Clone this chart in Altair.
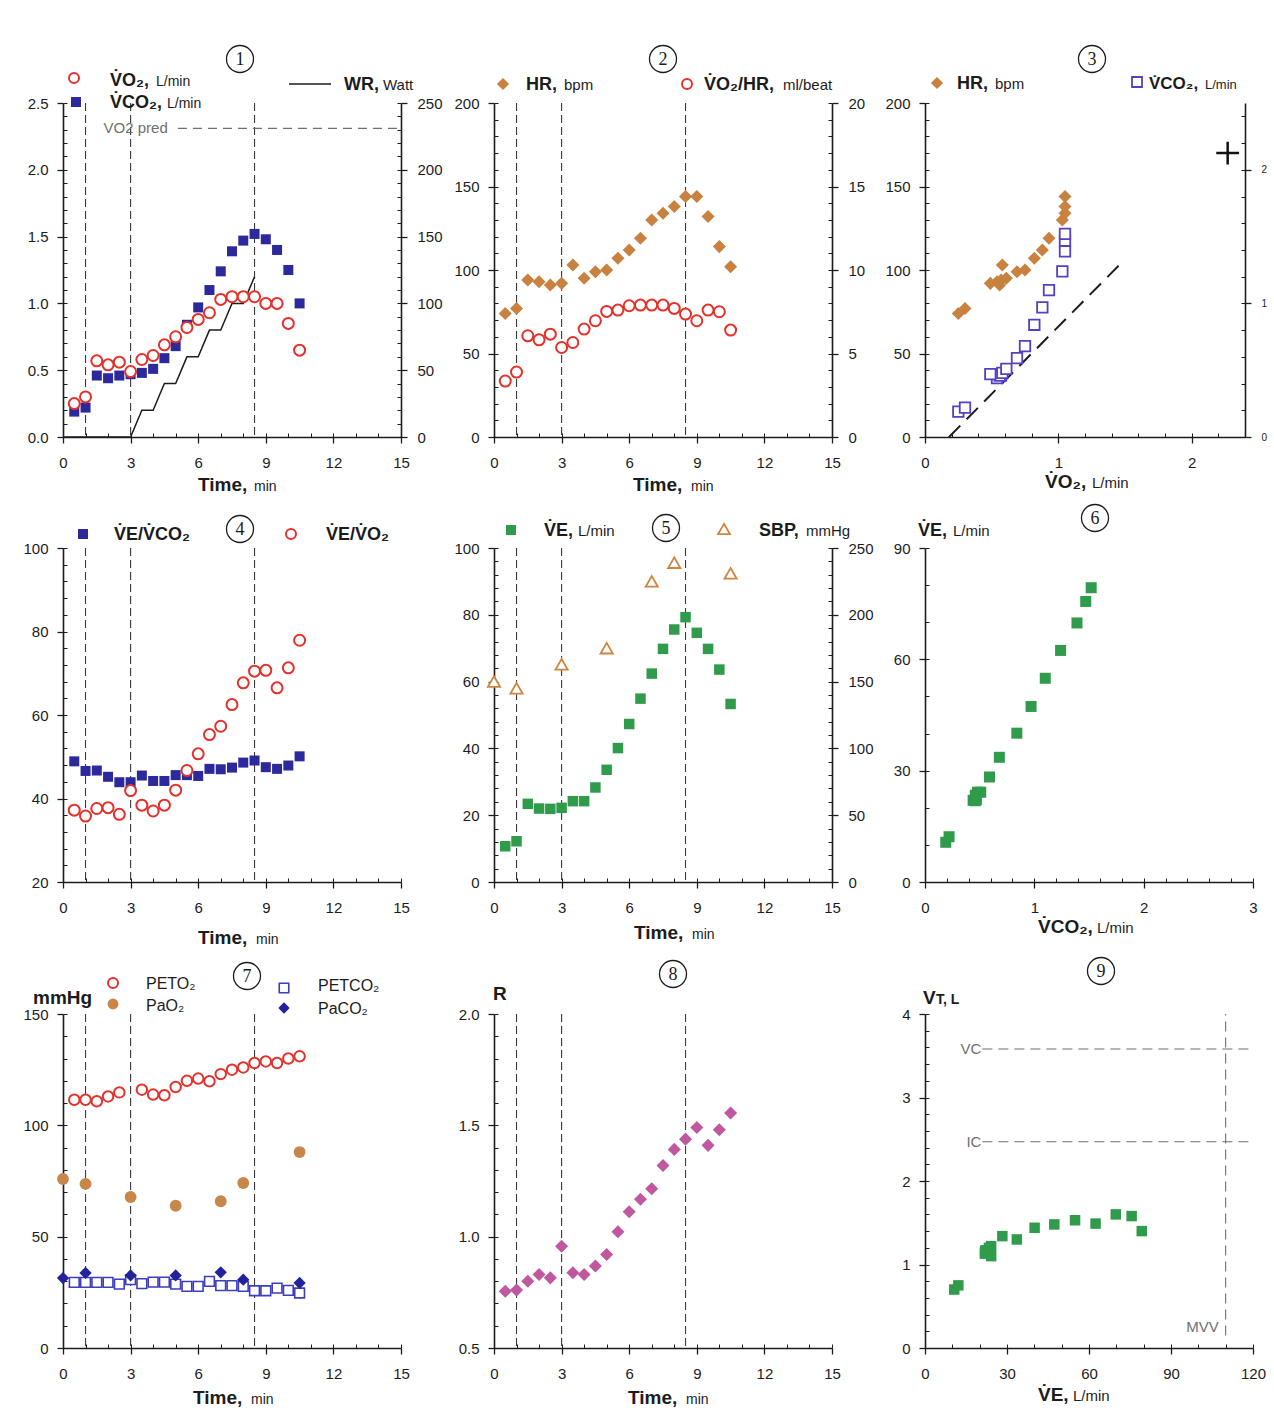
import altair as alt
import pandas as pd

# ---------------- data ----------------
time = [0.5, 1.0, 1.5, 2.0, 2.5, 3.0, 3.5, 4.0, 4.5, 5.0, 5.5, 6.0, 6.5, 7.0, 7.5, 8.0, 8.5, 9.0, 9.5, 10.0, 10.5]
vo2 = [0.25, 0.30, 0.57, 0.54, 0.56, 0.49, 0.58, 0.61, 0.69, 0.75, 0.82, 0.88, 0.93, 1.03, 1.05, 1.05, 1.05, 1.00, 1.00, 0.85, 0.65]
vco2 = [0.19, 0.22, 0.46, 0.44, 0.46, 0.47, 0.48, 0.51, 0.59, 0.68, 0.84, 0.97, 1.10, 1.24, 1.39, 1.47, 1.52, 1.48, 1.40, 1.25, 1.00]
wr_time = [0, 3, 3.5, 4, 4.5, 5, 5.5, 6, 6.5, 7, 7.5, 8, 8.5]
wr = [0, 0, 20, 20, 40, 40, 60, 60, 80, 80, 100, 100, 120]
hr = [74, 77, 94, 93, 91, 92, 103, 95, 99, 100, 107, 112, 119, 130, 134, 138, 144, 144, 132, 114, 102]
vo2_hr = [3.35, 3.89, 6.06, 5.82, 6.16, 5.36, 5.66, 6.46, 6.96, 7.52, 7.6, 7.86, 7.9, 7.9, 7.9, 7.7, 7.36, 6.96, 7.6, 7.5, 6.4]
ve_vco2 = [48.9, 46.6, 46.7, 45.2, 43.9, 43.9, 45.5, 44.2, 44.2, 45.6, 45.6, 45.4, 47.1, 47.0, 47.4, 48.6, 49.1, 47.5, 47.1, 47.9, 50.1]
ve_vo2 = [37.2, 35.8, 37.6, 37.8, 36.2, 41.9, 38.4, 37.0, 38.4, 42.0, 46.7, 50.7, 55.3, 57.3, 62.5, 67.7, 70.5, 70.7, 66.5, 71.3, 77.9]
ve = [10.7, 12.2, 23.4, 22.0, 21.9, 22.2, 24.2, 24.2, 28.3, 33.6, 40.1, 47.3, 54.9, 62.4, 69.8, 75.6, 79.3, 74.6, 69.8, 63.6, 53.3]
sbp_time = [0, 1, 3, 5, 7, 8, 10.5]
sbp = [150, 145, 163, 175, 225, 239, 231]
peto2_time = [0.5, 1.0, 1.5, 2.0, 2.5, 3.5, 4.0, 4.5, 5.0, 5.5, 6.0, 6.5, 7.0, 7.5, 8.0, 8.5, 9.0, 9.5, 10.0, 10.5]
peto2 = [111.5, 111.5, 110.8, 113.0, 114.8, 116.0, 113.8, 113.5, 117.2, 120.0, 121.0, 119.8, 123.0, 125.0, 126.0, 128.0, 128.7, 128.0, 130.0, 131.0]
pao2_time = [0, 1, 3, 5, 7, 8, 10.5]
pao2 = [75.9, 73.7, 67.8, 63.9, 65.9, 74.1, 88.0]
petco2 = [29.5, 29.5, 29.5, 29.5, 28.7, 30.7, 28.9, 29.6, 29.6, 28.7, 27.7, 27.7, 29.9, 28.0, 28.0, 27.7, 25.7, 25.7, 26.9, 25.9, 24.7]
paco2_time = [0, 1, 3, 5, 7, 8, 10.5]
paco2 = [31.4, 33.7, 32.6, 32.6, 34.0, 30.7, 29.2]
r_ratio = [0.755, 0.76, 0.80, 0.83, 0.815, 0.957, 0.838, 0.83, 0.868, 0.92, 1.022, 1.112, 1.168, 1.215, 1.32, 1.392, 1.438, 1.49, 1.41, 1.48, 1.555]
vt = [0.70, 0.75, 1.20, 1.16, 1.13, 1.17, 1.22, 1.10, 1.34, 1.30, 1.44, 1.48, 1.53, 1.49, 1.60, 1.58, 1.40]
phase_marks = [1.0, 3.0, 8.5]
vo2_pred = 2.31
pred_line = [5.1, 15]
peak_pred_vo2, peak_pred_hr = 2.27, 170
slope_x = [0.18, 1.46]
slope_y = [0.0, 1.29]
vc, ic, mvv = 3.58, 2.47, 110
ref_line_start = 21

time_ticks = [0, 3, 6, 9, 12, 15]

# ---------------- style ----------------
FONT = "Liberation Sans"
SERIF = "Liberation Serif"
INK = "#1c1c1c"
RED = "#e4312b"
BLUE = "#2b299c"
BROWN = "#c8813f"
GREEN = "#2f9b4b"
VIOLET = "#5540c4"
PINK = "#c0589f"
NAVY = "#22229a"
PBLUE = "#3d3dbf"
GRAY = "#6f6f6f"
LBL = 15

W, W3, W3A, H, H3, OFF3 = 338, 328, 320, 334, 355, 21
R3 = [H3, OFF3]

ONE = pd.DataFrame({"k": [0]})

df = pd.DataFrame({"t": time, "vo2": vo2, "vco2": vco2, "hr": hr, "o2p": vo2_hr,
                   "eqco2": ve_vco2, "eqo2": ve_vo2, "ve": ve, "petco2": petco2, "r": r_ratio})
dfx = df.iloc[:len(vt)].copy()
dfx["vt"] = vt
df_wr = pd.DataFrame({"t": wr_time, "wr": wr})
df_sbp = pd.DataFrame({"t": sbp_time, "sbp": sbp})
df_peto2 = pd.DataFrame({"t": peto2_time, "v": peto2})
df_pao2 = pd.DataFrame({"t": pao2_time, "v": pao2})
df_paco2 = pd.DataFrame({"t": paco2_time, "v": paco2})
df_marks = pd.DataFrame({"m": phase_marks})


def sc(domain, rng=None):
    kw = dict(domain=domain, nice=False, zero=False)
    if rng is not None:
        kw["range"] = rng
    return alt.Scale(**kw)


def ax_major(orient, values, fmt=None, size=LBL, pad=None):
    kw = dict(orient=orient, values=values, title=None, grid=False, labelFont=FONT,
              labelFontSize=size, labelColor=INK, domainColor=INK, domainWidth=1.6,
              tickColor=INK, tickWidth=1.3, tickSize=6, labelFlush=False, labelOverlap=False)
    if fmt:
        kw["format"] = fmt
    if pad is not None:
        kw["labelPadding"] = pad
    return alt.Axis(**kw)


def ax_minor(orient, values, offset):
    # an axis on the opposite side, shifted onto the domain line, so its ticks point inward
    return alt.Axis(orient=orient, values=values, title=None, grid=False, labels=False,
                    domain=False, tickColor=INK, tickWidth=1.0, tickSize=4, offset=offset)


def ax_layer(xdom, ydom, xaxis, yaxis, yr=None):
    d = pd.DataFrame({"x": [xdom[0]], "y": [ydom[0]]})
    return alt.Chart(d).mark_point(opacity=0, size=1).encode(
        x=alt.X("x:Q", scale=sc(xdom), axis=xaxis),
        y=alt.Y("y:Q", scale=sc(ydom, yr), axis=yaxis))


def steps(lo, hi, step):
    n = int(round((hi - lo) / step))
    return [round(lo + i * step, 4) for i in range(n + 1)]


def tx(s, x, y, size=16, weight="normal", color=INK, align="left", baseline="alphabetic", font=FONT):
    return alt.Chart(ONE).mark_text(text=s, font=font, fontSize=size, fontWeight=weight, color=color,
                                    align=align, baseline=baseline).encode(x=alt.value(x), y=alt.value(y))


def sym(x, y, shape, color, size, hollow=False, sw=2.0):
    if hollow:
        m = alt.Chart(ONE).mark_point(shape=shape, filled=True, fill="white", stroke=color,
                                      strokeWidth=sw, size=size, opacity=1)
    else:
        m = alt.Chart(ONE).mark_point(shape=shape, filled=True, color=color, size=size, opacity=1)
    return m.encode(x=alt.value(x), y=alt.value(y))


def badge(n, x, y):
    return [alt.Chart(ONE).mark_point(shape="circle", filled=False, color=INK, size=27 * 27,
                                      strokeWidth=1.3, opacity=1).encode(x=alt.value(x), y=alt.value(y)),
            tx(str(n), x, y + 6, size=18, font=SERIF, align="center")]


def pts(data, xf, yf, xdom, ydom, shape, color, size, hollow=False, sw=2.0, yr=None):
    if hollow:
        m = alt.Chart(data).mark_point(shape=shape, filled=True, fill="white", stroke=color,
                                       strokeWidth=sw, size=size, opacity=1)
    else:
        m = alt.Chart(data).mark_point(shape=shape, filled=True, color=color, size=size, opacity=1)
    return m.encode(x=alt.X(f"{xf}:Q", scale=sc(xdom), axis=None),
                    y=alt.Y(f"{yf}:Q", scale=sc(ydom, yr), axis=None))


def vlines(xdom, top, bottom):
    return alt.Chart(df_marks).mark_rule(color="#3a3a3a", strokeWidth=1.1, strokeDash=[8, 4]).encode(
        x=alt.X("m:Q", scale=sc(xdom), axis=None), y=alt.value(top), y2=alt.value(bottom))


def std_axes(xdom, ydom, xmaj, xmin, ymaj, ymin, w, h, xfmt=None, yfmt=None, yr=None):
    return [ax_layer(xdom, ydom, ax_major("bottom", xmaj, xfmt, pad=12), ax_major("left", ymaj, yfmt, pad=9), yr),
            ax_layer(xdom, ydom, ax_minor("top", xmin, -h), ax_minor("right", ymin, -w), yr)]


def time_axes(ydom, ymaj, ymin, w, h, fmt=None, yr=None):
    return std_axes([0, 15], ydom, time_ticks, steps(0, 15, 1), ymaj, ymin, w, h, None, fmt, yr)


def right_axes(xdom, ydom, ymaj, ymin, w, size=LBL, yr=None):
    return [ax_layer(xdom, ydom, None, ax_major("right", ymaj, size=size, pad=10), yr),
            ax_layer(xdom, ydom, None, ax_minor("left", ymin, -w), yr)]


def title_pair(a, b, xa, xb, y, sa=19, sb=14):
    return [tx(a, xa, y, size=sa, weight="bold"), tx(b, xb, y, size=sb)]


def panel(layers, w, h):
    return alt.layer(*layers).resolve_scale(y="independent").resolve_axis(
        x="independent", y="independent").properties(width=w, height=h)


TD = [0, 15]
VO2 = "V\u0307O\u2082"
VCO2 = "V\u0307CO\u2082"
VE = "V\u0307E"

# ---------------- panel 1 ----------------
p1_layers = (
    [alt.Chart(ONE).mark_point(shape="square", size=4, filled=True, color="white", opacity=1)
     .encode(x=alt.value(-57), y=alt.value(-97))]
    + time_axes([0, 2.5], steps(0, 2.5, 0.5), steps(0, 2.5, 0.1), W, H, fmt=".1f")
    + right_axes(TD, [0, 250], steps(0, 250, 50), steps(0, 250, 10), W)
    + [vlines(TD, 0, H),
       alt.Chart(pd.DataFrame({"x1": [pred_line[0]], "x2": [pred_line[1]], "y": [vo2_pred]}))
       .mark_rule(color=GRAY, strokeWidth=1.1, strokeDash=[9, 6])
       .encode(x=alt.X("x1:Q", scale=sc(TD), axis=None), x2="x2:Q",
               y=alt.Y("y:Q", scale=sc([0, 2.5]), axis=None)),
       alt.Chart(pd.DataFrame({"x": [1.8], "y": [vo2_pred]}))
       .mark_text(text="VO2 pred", font=FONT, fontSize=15, color=GRAY, align="left", baseline="middle")
       .encode(x=alt.X("x:Q", scale=sc(TD), axis=None), y=alt.Y("y:Q", scale=sc([0, 2.5]), axis=None)),
       alt.Chart(df_wr).mark_line(color=INK, strokeWidth=1.5)
       .encode(x=alt.X("t:Q", scale=sc(TD), axis=None), y=alt.Y("wr:Q", scale=sc([0, 250]), axis=None)),
       pts(df, "t", "vco2", TD, [0, 2.5], "square", BLUE, 100),
       pts(df, "t", "vo2", TD, [0, 2.5], "circle", RED, 121, hollow=True),
       sym(11, -25, "circle", RED, 100, hollow=True),
       sym(13, -1, "square", BLUE, 100),
       alt.Chart(ONE).mark_rule(color=INK, strokeWidth=1.6)
       .encode(x=alt.value(226), x2=alt.value(268), y=alt.value(-19))]
    + title_pair(VO2 + ",", "L/min", 47, 93, -17, 18, 14)
    + title_pair(VCO2 + ",", "L/min", 47, 104, 5, 18, 14)
    + title_pair("WR,", "Watt", 281, 320, -13, 18, 15)
    + badge(1, 177, -44)
    + title_pair("Time,", "min", 135, 191, 388)
)
p1 = panel(p1_layers, W, H)

# ---------------- panel 2 ----------------
p2_layers = (
    time_axes([0, 200], steps(0, 200, 50), steps(0, 200, 10), W, H)
    + right_axes(TD, [0, 20], steps(0, 20, 5), steps(0, 20, 1), W)
    + [vlines(TD, 0, H),
       pts(df, "t", "hr", TD, [0, 200], "diamond", BROWN, 170),
       pts(df, "t", "o2p", TD, [0, 20], "circle", RED, 121, hollow=True),
       sym(9, -19, "diamond", BROWN, 150),
       sym(193, -19, "circle", RED, 100, hollow=True)]
    + title_pair("HR,", "bpm", 32, 70, -13, 18, 15)
    + title_pair(VO2 + "/HR,", "ml/beat", 210, 289, -13, 18, 15)
    + badge(2, 169, -44)
    + title_pair("Time,", "min", 139, 197, 388)
)
p2 = panel(p2_layers, W, H)

# ---------------- panel 3 ----------------
XD3 = [0, 2.4]
p3_layers = (
    std_axes(XD3, [0, 200], [0, 1, 2], steps(0, 2.4, 0.2), steps(0, 200, 50), steps(0, 200, 10), W3A, H, xfmt="d")
    + right_axes(XD3, [0, 2.5], [0, 1, 2], steps(0, 2.4, 0.2), W3A, size=10)
    + [alt.Chart(pd.DataFrame({"x": slope_x, "y": slope_y})).mark_line(color=INK, strokeWidth=2, strokeDash=[16, 9])
       .encode(x=alt.X("x:Q", scale=sc(XD3), axis=None), y=alt.Y("y:Q", scale=sc([0, 2.5]), axis=None)),
       pts(dfx, "vo2", "hr", XD3, [0, 200], "diamond", BROWN, 170),
       pts(dfx, "vo2", "vco2", XD3, [0, 2.5], "square", VIOLET, 110, hollow=True, sw=1.8),
       alt.Chart(pd.DataFrame({"x": [peak_pred_vo2], "y": [peak_pred_hr]}))
       .mark_point(shape="M-1,0L1,0M0,-1L0,1", size=520, strokeWidth=2.5, color="#111", filled=False, opacity=1)
       .encode(x=alt.X("x:Q", scale=sc(XD3), axis=None), y=alt.Y("y:Q", scale=sc([0, 200]), axis=None)),
       sym(12, -20, "diamond", BROWN, 150),
       sym(212, -21, "square", VIOLET, 100, hollow=True, sw=1.8)]
    + title_pair("HR,", "bpm", 32, 70, -14, 18, 15)
    + title_pair(VCO2 + ",", "L/min", 224, 280, -14, 17, 13)
    + badge(3, 167, -44)
    + title_pair(VO2 + ",", "L/min", 120, 167, 385, 19, 15)
)
p3 = panel(p3_layers, W3A, H)

# ---------------- panel 4 ----------------
p4_layers = (
    time_axes([20, 100], steps(20, 100, 20), steps(20, 100, 4), W, H)
    + [vlines(TD, 0, H),
       pts(df, "t", "eqco2", TD, [20, 100], "square", BLUE, 100),
       pts(df, "t", "eqo2", TD, [20, 100], "circle", RED, 121, hollow=True),
       sym(20, -14, "square", BLUE, 100),
       sym(228, -14, "circle", RED, 100, hollow=True),
       tx(VE + "/" + VCO2, 51, -8, 18, "bold"),
       tx(VE + "/" + VO2, 263, -8, 18, "bold")]
    + badge(4, 177, -19)
    + title_pair("Time,", "min", 135, 193, 396)
)
p4 = panel(p4_layers, W, H)

# ---------------- panel 5 ----------------
p5_layers = (
    time_axes([0, 100], steps(0, 100, 20), steps(0, 100, 4), W, H)
    + right_axes(TD, [0, 250], steps(0, 250, 50), steps(0, 250, 10), W)
    + [vlines(TD, 0, H),
       pts(df, "t", "ve", TD, [0, 100], "square", GREEN, 110),
       pts(df_sbp, "t", "sbp", TD, [0, 250], "triangle-up", "#d0843f", 150, hollow=True, sw=1.8),
       sym(17, -18, "square", GREEN, 100),
       sym(230, -19, "triangle-up", "#d0843f", 140, hollow=True, sw=1.8)]
    + title_pair(VE + ",", "L/min", 50, 84, -12, 18, 15)
    + title_pair("SBP,", "mmHg", 265, 312, -12, 18, 15)
    + badge(5, 172, -20)
    + title_pair("Time,", "min", 140, 198, 391)
)
p5 = panel(p5_layers, W, H)

# ---------------- panel 6 ----------------
XD6 = [0, 3]
p6_layers = (
    std_axes(XD6, [0, 90], [0, 1, 2, 3], steps(0, 3, 0.2), steps(0, 90, 30), steps(0, 90, 10), W3, H, xfmt="d")
    + [pts(dfx, "vco2", "ve", XD6, [0, 90], "square", GREEN, 121)]
    + title_pair(VE + ",", "L/min", -7, 28, -12, 18, 15)
    + badge(6, 170, -30)
    + title_pair(VCO2 + ",", "L/min", 113, 172, 385, 19, 15)
)
p6 = panel(p6_layers, W3, H)

# ---------------- panel 7 ----------------
p7_layers = (
    time_axes([0, 150], steps(0, 150, 50), steps(0, 150, 10), W, H3, yr=R3)
    + [vlines(TD, OFF3, H3),
       pts(df, "t", "petco2", TD, [0, 150], "square", PBLUE, 95, hollow=True, sw=1.6, yr=R3),
       pts(df_paco2, "t", "v", TD, [0, 150], "diamond", NAVY, 150, yr=R3),
       pts(df_peto2, "t", "v", TD, [0, 150], "circle", RED, 110, hollow=True, yr=R3),
       pts(df_pao2, "t", "v", TD, [0, 150], "circle", "#c8874a", 140, yr=R3),
       tx("mmHg", -30, 11, 19, "bold"),
       sym(50, -10, "circle", RED, 100, hollow=True),
       tx("PETO\u2082", 83, -4, 16),
       sym(50, 11, "circle", "#c8874a", 120),
       tx("PaO\u2082", 83, 18, 16),
       sym(221, -5, "square", PBLUE, 90, hollow=True, sw=1.6),
       tx("PETCO\u2082", 255, -2, 16),
       sym(221, 15, "diamond", NAVY, 130),
       tx("PaCO\u2082", 255, 21, 16)]
    + badge(7, 184, -17)
    + title_pair("Time,", "min", 130, 188, 411)
)
p7 = panel(p7_layers, W, H3)

# ---------------- panel 8 ----------------
p8_layers = (
    time_axes([0.5, 2.0], steps(0.5, 2.0, 0.5), steps(0.5, 2.0, 0.1), W, H3, fmt=".1f", yr=R3)
    + [vlines(TD, OFF3, H3),
       pts(df, "t", "r", TD, [0.5, 2.0], "diamond", PINK, 170, yr=R3),
       tx("R", -1, 7, 19, "bold")]
    + badge(8, 179, -19)
    + title_pair("Time,", "min", 134, 192, 411)
)
p8 = panel(p8_layers, W, H3)

# ---------------- panel 9 ----------------
XD9 = [0, 120]
ref_df = pd.DataFrame({"x1": [ref_line_start, ref_line_start], "x2": [120, 120], "y": [vc, ic], "lab": ["VC", "IC"]})
p9_layers = (
    std_axes(XD9, [0, 4], steps(0, 120, 30), steps(0, 120, 10), steps(0, 4, 1), steps(0, 4, 0.2), W3, H3,
             xfmt="d", yfmt="d", yr=R3)
    + [alt.Chart(ref_df).mark_rule(color=GRAY, strokeWidth=1.1, strokeDash=[10, 6])
       .encode(x=alt.X("x1:Q", scale=sc(XD9), axis=None), x2="x2:Q", y=alt.Y("y:Q", scale=sc([0, 4], R3), axis=None)),
       alt.Chart(ref_df).mark_text(font=FONT, fontSize=15, color=GRAY, align="right", baseline="middle", dx=-1)
       .encode(x=alt.X("x1:Q", scale=sc(XD9), axis=None), y=alt.Y("y:Q", scale=sc([0, 4], R3), axis=None), text="lab:N"),
       alt.Chart(pd.DataFrame({"x": [mvv], "y1": [0.15], "y2": [4.0]})).mark_rule(color=GRAY, strokeWidth=1.1, strokeDash=[10, 6])
       .encode(x=alt.X("x:Q", scale=sc(XD9), axis=None), y=alt.Y("y1:Q", scale=sc([0, 4], R3), axis=None), y2="y2:Q"),
       alt.Chart(pd.DataFrame({"x": [mvv], "y": [0.19]})).mark_text(text="MVV", font=FONT, fontSize=15, color=GRAY,
                                                                   align="right", baseline="alphabetic", dx=-7)
       .encode(x=alt.X("x:Q", scale=sc(XD9), axis=None), y=alt.Y("y:Q", scale=sc([0, 4], R3), axis=None)),
       pts(dfx, "ve", "vt", XD9, [0, 4], "square", GREEN, 110, yr=R3),
       tx("V", -2, 11, 19, "bold"),
       tx("T, L", 11, 11, 14, "bold")]
    + badge(9, 176, -22)
    + title_pair(VE + ",", "L/min", 113, 148, 408, 19, 15)
)
p9 = panel(p9_layers, W3, H3)

chart = alt.concat(p1, p2, p3, p4, p5, p6, p7, p8, p9, columns=3,
                   spacing={"row": 111, "column": 93}, bounds="flush", align="each").properties(
    background="white", padding={"left": 5, "top": 5, "right": 5, "bottom": 5}
).configure_view(stroke=None)

chart.save("out.html", embed_options={"renderer": "svg", "actions": False})
